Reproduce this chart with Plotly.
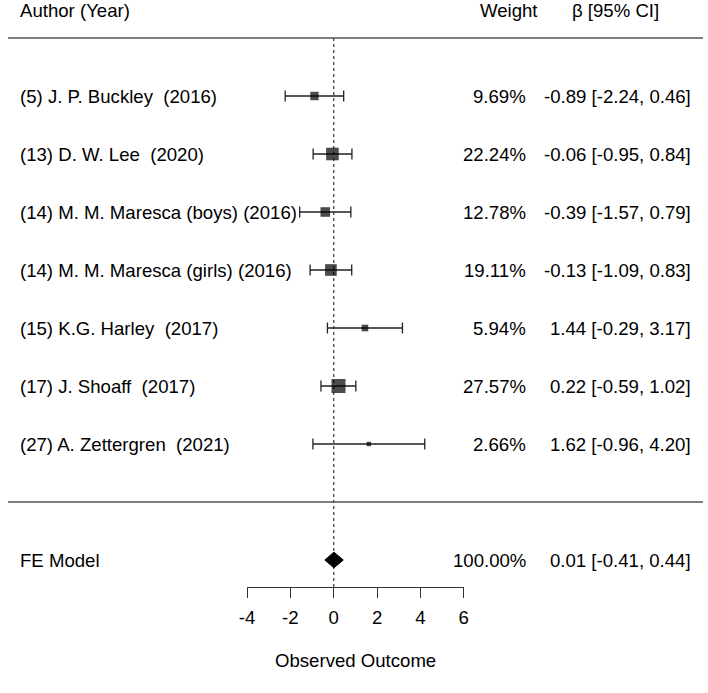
import plotly.graph_objects as go

# ---------------- data ----------------
study_labels = [
    "(5) J. P. Buckley\u00a0 (2016)",
    "(13) D. W. Lee\u00a0 (2020)",
    "(14) M. M. Maresca (boys) (2016)",
    "(14) M. M. Maresca (girls) (2016)",
    "(15) K.G. Harley\u00a0 (2017)",
    "(17) J. Shoaff\u00a0 (2017)",
    "(27) A. Zettergren\u00a0 (2021)",
]
estimates = [-0.89, -0.06, -0.39, -0.13, 1.44, 0.22, 1.62]
ci_lower = [-2.24, -0.95, -1.57, -1.09, -0.29, -0.59, -0.96]
ci_upper = [0.46, 0.84, 0.79, 0.83, 3.17, 1.02, 4.20]
weights = [9.69, 22.24, 12.78, 19.11, 5.94, 27.57, 2.66]

model_label = "FE Model"
model_est = 0.01
model_lower = -0.41
model_upper = 0.44
model_weight = 100.00

tick_values = [-4, -2, 0, 2, 4, 6]
tick_labels = ["-4", "-2", "0", "2", "4", "6"]
x_title = "Observed Outcome"
header_left = "Author (Year)"
header_weight = "Weight"
header_ci = "β [95% CI]"

# ---------------- layout helpers ----------------
W, H = 708, 693
k = len(estimates)
rows = list(range(k, 0, -1))      # 7 .. 1
model_row = -1
PX_PER_ROW = 58
TOP_LINE_PX = 38
def v_of_px(px):
    return (k + 1) - (px - TOP_LINE_PX) / PX_PER_ROW
y_top = v_of_px(0)
y_bot = v_of_px(H)
axis_v = v_of_px(587)

FONT = "Liberation Sans, Arial, sans-serif"
FS = 18.6
TXT = "#000000"

# marker sizes from sqrt(weights), metafor-like scaling
sw = [w ** 0.5 for w in weights]
smin, smax = min(sw), max(sw)
sizes = [4.5 + (s - smin) / (smax - smin) * 9.5 for s in sw]

fig = go.Figure()

# confidence intervals + squares
fig.add_trace(go.Scatter(
    x=estimates, y=rows, mode="markers",
    marker=dict(symbol="square", size=sizes, color="black", line=dict(width=0)),
    error_x=dict(type="data", symmetric=False,
                 array=[u - e for u, e in zip(ci_upper, estimates)],
                 arrayminus=[e - l for e, l in zip(estimates, ci_lower)],
                 color="#222222", thickness=1.3, width=5.5),
    cliponaxis=False, showlegend=False, hoverinfo="skip",
))

# summary diamond
dh = 0.135
fig.add_trace(go.Scatter(
    x=[model_lower, model_est, model_upper, model_est, model_lower],
    y=[model_row, model_row + dh, model_row, model_row - dh, model_row],
    mode="lines", fill="toself", fillcolor="black",
    line=dict(color="black", width=1), cliponaxis=False,
    showlegend=False, hoverinfo="skip",
))

shapes = [
    dict(type="line", xref="paper", yref="y", x0=0, x1=1, y0=k + 1, y1=k + 1,
         line=dict(color="#555555", width=1.6)),
    dict(type="line", xref="paper", yref="y", x0=0, x1=1, y0=0, y1=0,
         line=dict(color="#555555", width=1.6)),
    dict(type="line", xref="x", yref="y", x0=0, x1=0, y0=k + 1, y1=axis_v,
         line=dict(color="#444444", width=1.3, dash="dot"), layer="below"),
]

ann = []
def add_text(text, x_px, y, anchor, yref="y"):
    ann.append(dict(text=text, x=x_px / W, y=y, xref="paper", yref=yref,
                    xanchor=anchor, yanchor="middle", showarrow=False,
                    font=dict(family=FONT, size=FS, color=TXT)))

LEFT_X, WEIGHT_X, CI_X = 10, 530, 698
for lab, r, w, e, lo, up in zip(study_labels, rows, weights, estimates, ci_lower, ci_upper):
    add_text(lab, LEFT_X, r, "left")
    add_text(f"{w:.2f}%", WEIGHT_X, r, "right")
    add_text(f"{e:.2f} [{lo:.2f}, {up:.2f}]", CI_X, r, "right")

add_text(model_label, LEFT_X, model_row, "left")
add_text(f"{model_weight:.2f}%", WEIGHT_X, model_row, "right")
add_text(f"{model_est:.2f} [{model_lower:.2f}, {model_upper:.2f}]", CI_X, model_row, "right")

hy = 1 - 11 / H
add_text(header_left, LEFT_X, hy, "left", yref="paper")
add_text(header_weight, 542, hy, "right", yref="paper")
add_text(header_ci, 665, hy, "right", yref="paper")

x0_px, x1_px = 243.5, 464.3
add_text(x_title, (x0_px + x1_px) / 2, 1 - 660 / H, "center", yref="paper")

fig.update_layout(
    width=W, height=H, margin=dict(l=0, r=0, t=0, b=0),
    paper_bgcolor="white", plot_bgcolor="white",
    shapes=shapes, annotations=ann,
    xaxis=dict(domain=[x0_px / W, x1_px / W], range=[-4, 6],
               anchor="free", position=(axis_v - y_bot) / (y_top - y_bot),
               showline=True, linecolor="#333333", linewidth=1.3,
               ticks="outside", ticklen=10, tickwidth=1.3, tickcolor="#333333",
               ticklabelstandoff=4,
               tickvals=tick_values, ticktext=tick_labels,
               showgrid=False, zeroline=False,
               tickfont=dict(family=FONT, size=FS, color=TXT)),
    yaxis=dict(domain=[0, 1], range=[y_bot, y_top], visible=False,
               showgrid=False, zeroline=False),
)

fig.write_html("out.html", config={"displayModeBar": False},
               post_script="document.body.style.margin='0';document.body.style.padding='0';")
